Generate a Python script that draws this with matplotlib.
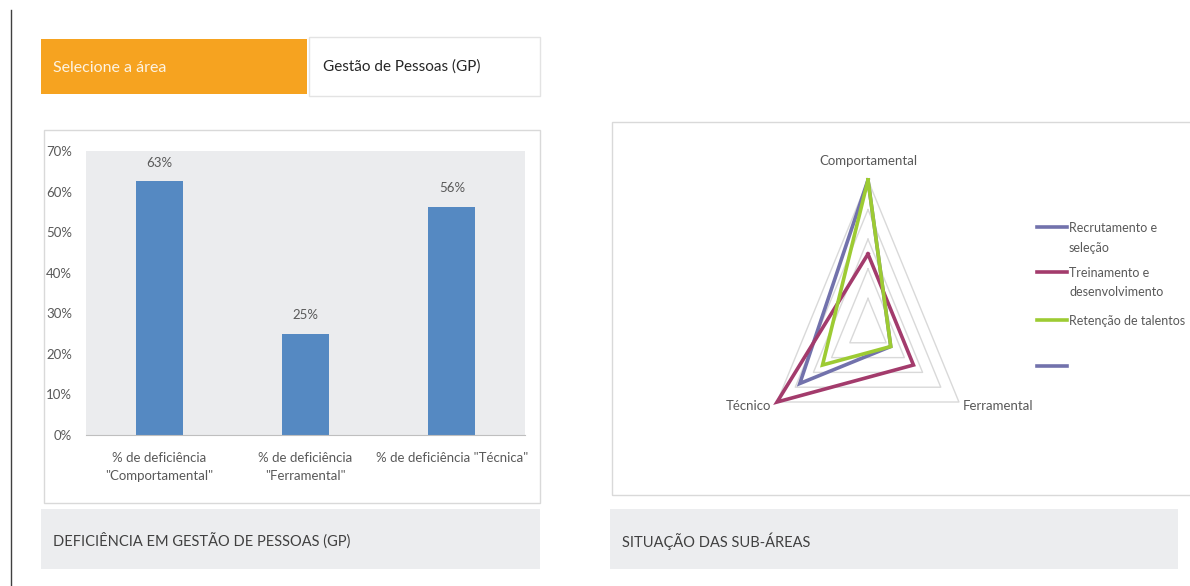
import numpy as np
import matplotlib
matplotlib.use("Agg")
import matplotlib.pyplot as plt
from matplotlib.patches import Rectangle
from matplotlib.lines import Line2D
from matplotlib.ticker import PercentFormatter

plt.rcParams['font.family'] = ['Lato', 'DejaVu Sans']

W, H = 1190, 586

# bar chart data
bar_labels = ['% de deficiência\n"Comportamental"', '% de deficiência\n"Ferramental"',
              '% de deficiência "Técnica"']
bar_values = [0.625, 0.25, 0.5625]

# radar data
radar_axes = ["Comportamental", "Ferramental", "Técnico"]
series_names = ["Recrutamento e\nseleção", "Treinamento e\ndesenvolvimento",
                "Retenção de talentos", ""]
recrutamento = [1.0, 0.25, 0.75]
treinamento = [0.5, 0.5, 1.0]
retencao = [1.0, 0.25, 0.5]
series_values = [recrutamento, treinamento, retencao, None]
series_colors = ["#7272AC", "#A33B6C", "#9DCB33", "#7272AC"]
grid_levels = [0.2, 0.4, 0.6, 0.8, 1.0]

TXT = "#595959"
FS = 9.5


def fx(x):
    return x / W


def fy(y):
    return 1 - y / H


def box(fig, x0, y0, x1, y1, **kw):
    fig.patches.append(Rectangle((fx(x0), fy(y1)), (x1 - x0) / W, (y1 - y0) / H,
                                 transform=fig.transFigure, **kw))


fig = plt.figure(figsize=(W / 100, H / 100), dpi=100)
fig.patch.set_facecolor("white")

# left vertical rule
fig.add_artist(Line2D([fx(10.5), fx(10.5)], [fy(10), fy(586)], color="#404040", lw=1,
                      transform=fig.transFigure))

# header boxes
box(fig, 41, 39, 307, 94, facecolor="#F6A320", edgecolor="none")
fig.text(fx(53), fy(68), "Selecione a área", color="#FDF3E2", fontsize=11.5, va="center")
box(fig, 309, 37, 540, 96, facecolor="white", edgecolor="#E3E3E3", lw=1)
fig.text(fx(323), fy(67), "Gestão de Pessoas (GP)", color="#262626", fontsize=11, va="center")

# panels
box(fig, 44, 130, 540, 503, facecolor="none", edgecolor="#D9D9D9", lw=1)
box(fig, 612, 122, 1200, 495, facecolor="none", edgecolor="#D9D9D9", lw=1)
box(fig, 41, 509, 540, 569, facecolor="#ECEDEF", edgecolor="none")
fig.text(fx(53), fy(541), "DEFICIÊNCIA EM GESTÃO DE PESSOAS (GP)", color="#404040",
         fontsize=10.5, va="center")
box(fig, 610, 509, 1178, 569, facecolor="#ECEDEF", edgecolor="none")
fig.text(fx(622), fy(541), "SITUAÇÃO DAS SUB-ÁREAS", color="#404040", fontsize=10.5, va="center")

# bar chart
ax = fig.add_axes([fx(86), fy(435), (525 - 86) / W, (435 - 151) / H])
ax.set_facecolor("#EBECEE")
x = np.arange(len(bar_values))
bars = ax.bar(x, bar_values, width=0.32, color="#5589C2")
# Excel rounds half up
ax.bar_label(bars, labels=[f"{int(v * 100 + 0.5)}%" for v in bar_values], padding=9,
             color=TXT, fontsize=FS)
ax.set_xlim(-0.5, 2.5)
ax.set_ylim(0, 0.7)
ax.set_yticks(np.arange(0, 0.71, 0.1))
ax.yaxis.set_major_formatter(PercentFormatter(1.0, decimals=0))
ax.set_xticks(x)
ax.set_xticklabels(bar_labels, linespacing=1.6)
ax.tick_params(length=0, colors=TXT, labelsize=FS)
ax.tick_params(axis="y", pad=10)
ax.tick_params(axis="x", pad=12)
for s in ["top", "left", "right"]:
    ax.spines[s].set_visible(False)
ax.spines["bottom"].set_color("#BFBFBF")

# radar chart (Excel style, stretched triangle)
cx, cy, rx, ry = 868, 328, 105, 148
px0, px1, py0, py1 = 620, 1030, 130, 490
rax = fig.add_axes([fx(px0), fy(py1), (px1 - px0) / W, (py1 - py0) / H])
rax.set_xlim((px0 - cx) / rx, (px1 - cx) / rx)
rax.set_ylim((cy - py1) / ry, (cy - py0) / ry)
rax.axis("off")

ang = np.deg2rad([90, -30, 210])


def tri(vals):
    v = np.append(vals, vals[0])
    a = np.append(ang, ang[0])
    return v * np.cos(a), v * np.sin(a)


for lv in grid_levels:
    gx, gy = tri(np.full(3, lv))
    rax.plot(gx, gy, color="#D9D9D9", lw=1)

for vals, col in zip(series_values, series_colors):
    if vals is None:
        continue
    sx, sy = tri(np.array(vals))
    rax.plot(sx, sy, color=col, lw=2.6, solid_joinstyle="miter")

vx, vy = np.cos(ang), np.sin(ang)
rax.annotate(radar_axes[0], (vx[0], vy[0]), xytext=(0, 14), textcoords="offset points",
             ha="center", va="center", color=TXT, fontsize=FS)
rax.annotate(radar_axes[1], (vx[1], vy[1]), xytext=(3, -3), textcoords="offset points",
             ha="left", va="center", color=TXT, fontsize=FS)
rax.annotate(radar_axes[2], (vx[2], vy[2]), xytext=(-4, -3), textcoords="offset points",
             ha="right", va="center", color=TXT, fontsize=FS)

# legend
leg_y = [227, 272, 320, 366]
for name, col, ly in zip(series_names, series_colors, leg_y):
    fig.add_artist(Line2D([fx(1037), fx(1067)], [fy(ly), fy(ly)], color=col, lw=2.6,
                          transform=fig.transFigure))
    if name:
        fig.text(fx(1069), fy(ly - 5), name, color=TXT, fontsize=9, va="top",
                 linespacing=1.75)

fig.savefig("out.png", dpi=100)
